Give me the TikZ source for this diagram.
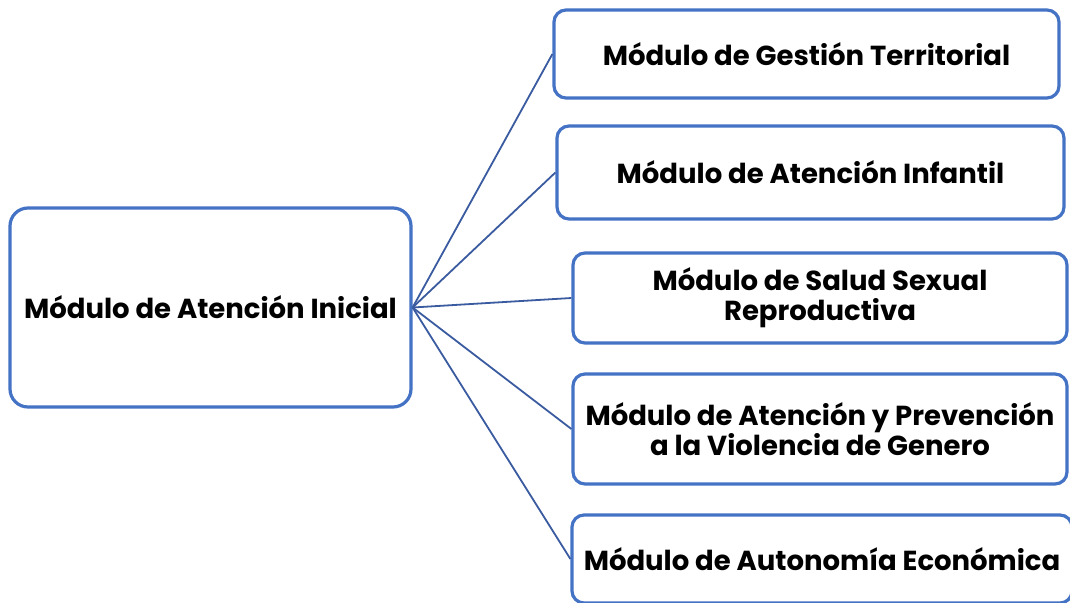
\documentclass[tikz,border=0pt]{standalone}
\usepackage{fontspec}
\setmainfont{Poppins}
\definecolor{boxblue}{HTML}{4472C4}
\definecolor{linkblue}{HTML}{3A5BA0}
\begin{document}
\begin{tikzpicture}[x=1pt,y=-1pt,
  box/.style={draw=boxblue, line width=3.2pt, rounded corners=12pt, align=center,
    font=\bfseries\fontsize{27.5}{30}\selectfont, inner sep=0pt, fill=white},
  link/.style={draw=linkblue, line width=1.8pt}]
\useasboundingbox (0,0) rectangle (1070,602);
\clip (0,0) rectangle (1070,602);
\node[box, rounded corners=18pt, minimum width=401pt, minimum height=199pt] (main) at (210.5,307.5) {Módulo de Atención Inicial};
\node[box, minimum width=505pt, minimum height=88pt] (m1) at (806.5,54) {Módulo de Gestión Territorial};
\node[box, minimum width=507pt, minimum height=93pt] (m2) at (810.5,172.5) {Módulo de Atención Infantil};
\node[box, minimum width=494pt, minimum height=90pt] (m3) at (820,298) {Módulo de Salud Sexual\\Reproductiva};
\node[box, minimum width=494pt, minimum height=110pt] (m4) at (820,429) {Módulo de Atención y Prevención\\a la Violencia de Genero};
\node[box, minimum width=500pt, minimum height=88pt] (m5) at (822,559) {Módulo de Autonomía Económica};
\foreach \m in {m1,m2,m3,m4,m5}{\draw[link] (main.east) -- (\m.west);}
\end{tikzpicture}
\end{document}
